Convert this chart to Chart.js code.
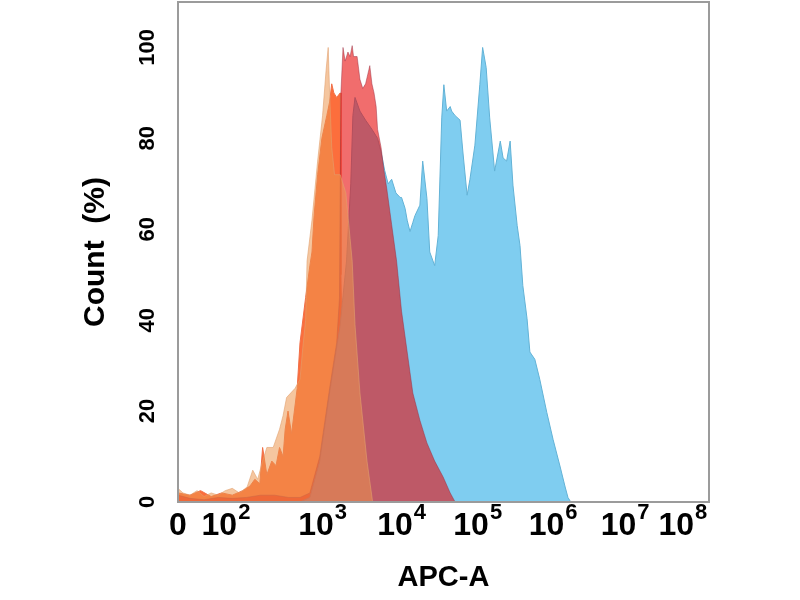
<!DOCTYPE html>
<html>
<head>
<meta charset="utf-8">
<script src="https://cdn.jsdelivr.net/npm/chart.js@4.4.1/dist/chart.umd.min.js"></script>
<style>
  html, body { margin: 0; padding: 0; background: #fff; }
</style>
</head>
<body>
<canvas id="histChart" width="800" height="600"></canvas>
<script>
// APC-A positions are display units of the transformed (biex / log) axis
var xTickPos = [1.13, 1.81, 3.18, 4.30, 5.38, 6.45, 7.47, 8.29];
var xTickBase = ['0', '10', '10', '10', '10', '10', '10', '10'];
var xTickExp = ['', '2', '3', '4', '5', '6', '7', '8'];
var yTickVals = [0, 20, 40, 60, 80, 100];

var blueX = [2.86, 3.00, 3.14, 3.28, 3.43, 3.52, 3.58, 3.61, 3.64, 3.71, 3.79, 3.88, 3.96, 4.01, 4.06, 4.11, 4.16, 4.22, 4.28, 4.30,
    4.35, 4.38, 4.42, 4.46, 4.49, 4.56, 4.60, 4.66, 4.70, 4.77, 4.82, 4.87, 4.90, 4.94, 4.99, 5.01, 5.06, 5.13, 5.17, 5.23,
    5.27, 5.34, 5.41, 5.45, 5.50, 5.55, 5.62, 5.70, 5.74, 5.79, 5.84, 5.88, 5.94, 5.98, 6.02, 6.08, 6.12, 6.19, 6.26, 6.36,
    6.45, 6.55, 6.62, 6.66, 6.70];
var blueY = [0, 1, 9, 24, 39, 53, 70, 85, 89, 86, 84, 82, 80, 77, 73, 70, 71, 68, 67, 67,
    64.6, 62, 59.5, 61.5, 63, 65.3, 75, 66.8, 55, 52, 58.6, 84.5, 91.8, 86, 87, 86, 85, 84, 77, 67.5,
    71, 78.5, 91.8, 100, 95.6, 84.5, 72.8, 79.4, 75.7, 75, 79.4, 69.7, 60.8, 56.4, 47.6, 40.3, 33, 31.4, 27, 19.7,
    13.7, 7.7, 3.3, 1, 0];

var redX = [1.13, 1.30, 1.50, 1.70, 1.90, 2.10, 2.30, 2.50, 2.70, 2.86, 3.00, 3.14, 3.28, 3.38, 3.42, 3.44, 3.47, 3.50, 3.54, 3.57,
    3.60, 3.62, 3.67, 3.71, 3.75, 3.79, 3.85, 3.88, 3.91, 3.94, 3.96, 4.01, 4.05, 4.09, 4.16, 4.23, 4.30, 4.38, 4.46, 4.56,
    4.66, 4.77, 4.89, 4.99, 5.06];
var redY = [1.5, 0.8, 0.5, 1, 0.8, 1, 1.5, 1.5, 1, 1, 2, 10, 25, 35, 45, 90, 100, 97, 99, 98,
    100.4, 98, 98, 93, 91, 92, 96, 92, 90, 87, 82, 78, 73, 69, 61, 53, 42, 33, 24, 18,
    13, 9, 5.5, 2, 0];

var orangeX = [1.13, 1.30, 1.45, 1.60, 1.75, 1.90, 2.05, 2.15, 2.22, 2.29, 2.33, 2.39, 2.46, 2.52, 2.57, 2.62, 2.65, 2.69, 2.74, 2.82,
    2.86, 2.94, 3.00, 3.03, 3.06, 3.11, 3.17, 3.24, 3.28, 3.31, 3.34, 3.38, 3.43, 3.44, 3.46, 3.52, 3.60, 3.70];
var orangeY = [2, 1.5, 2.5, 1.2, 2, 1.5, 2.5, 3.5, 5, 4, 12, 6, 9, 8, 12, 10, 16, 20, 15, 25,
    35, 45, 52, 55, 63, 72, 80, 85, 88, 92, 90, 89, 90, 50, 30, 15, 5, 0];

var tanX = [1.13, 1.20, 1.30, 1.40, 1.50, 1.60, 1.70, 1.80, 1.90, 2.00, 2.11, 2.19, 2.26, 2.33, 2.39, 2.48, 2.57, 2.62, 2.67, 2.79,
    2.86, 2.90, 2.94, 2.96, 3.03, 3.11, 3.18, 3.23, 3.26, 3.28, 3.31, 3.35, 3.43, 3.51, 3.57, 3.60, 3.64, 3.71, 3.81, 3.89];
var tanY = [3, 2, 1.5, 2.5, 1.2, 2, 1.5, 2.5, 3, 2, 3.3, 7, 5, 9, 12, 12, 16, 19, 23, 25,
    27, 34, 40, 53, 62, 75, 85, 95, 100, 90, 78, 72, 72, 68, 58, 53, 39, 24, 9, 0];

var fontFamily = '"Liberation Sans", Arial, sans-serif';

function toPoints(xs, ys) {
    return xs.map(function (x, i) { return { x: x, y: ys[i] }; });
}

function histSet(label, xs, ys, fill, line, order) {
    return {
        label: label,
        data: toPoints(xs, ys),
        backgroundColor: fill,
        borderColor: line,
        borderWidth: 1,
        pointRadius: 0,
        tension: 0,
        fill: 'origin',
        order: order
    };
}

// grey box round the plot
var frame = {
    id: 'frame',
    afterDatasetsDraw: function (chart) {
        var a = chart.chartArea;
        var ctx = chart.ctx;
        ctx.save();
        ctx.strokeStyle = '#9b9b9b';
        ctx.lineWidth = 2;
        ctx.strokeRect(a.left, a.top, a.right - a.left, a.bottom - a.top);
        ctx.restore();
    }
};

// x tick labels with real superscripts
var tickText = {
    id: 'tickText',
    afterDraw: function (chart) {
        var xs = chart.scales.x;
        var ctx = chart.ctx;
        ctx.save();
        ctx.fillStyle = '#000';
        ctx.textBaseline = 'alphabetic';
        ctx.textAlign = 'left';
        xTickPos.forEach(function (v, i) {
            var base = xTickBase[i];
            var exp = xTickExp[i];
            ctx.font = 'bold 32px ' + fontFamily;
            var wb = ctx.measureText(base).width;
            ctx.font = 'bold 22px ' + fontFamily;
            var we = exp ? ctx.measureText(exp).width + 1 : 0;
            var x0 = xs.getPixelForValue(v) - (wb + we) / 2;
            var yb = xs.top + 33;
            ctx.font = 'bold 32px ' + fontFamily;
            ctx.fillText(base, x0, yb);
            if (exp) {
                ctx.font = 'bold 22px ' + fontFamily;
                ctx.fillText(exp, x0 + wb + 1, yb - 16);
            }
        });
        ctx.restore();
    }
};

var ctx = document.getElementById('histChart').getContext('2d');
var chart = new Chart(ctx, {
    type: 'line',
    data: {
        datasets: [
            histSet('tan', tanX, tanY, 'rgba(236,150,78,0.54)', 'rgba(225,160,110,0.6)', 0),
            histSet('red', redX, redY, 'rgba(231,11,11,0.6)', 'rgba(150,40,60,0.45)', 1),
            histSet('blue', blueX, blueY, '#7fcdf0', '#62b2d6', 2),
            histSet('orange', orangeX, orangeY, 'rgb(252,110,60)', 'rgb(240,110,70)', 3)
        ]
    },
    plugins: [frame, tickText],
    options: {
        responsive: false,
        animation: false,
        layout: { padding: { top: 2, right: 91, left: 0, bottom: 0 } },
        plugins: { legend: { display: false }, tooltip: { enabled: false } },
        scales: {
            x: {
                type: 'linear',
                min: 1.13,
                max: 8.66,
                grid: { display: false, drawTicks: false },
                border: { display: false },
                afterFit: function (s) {
                    s.height = 98;
                    s.paddingLeft = 0;
                    s.paddingRight = 0;
                },
                ticks: { display: false },
                title: {
                    display: true,
                    text: 'APC-A',
                    color: '#000',
                    font: { family: fontFamily, size: 29, weight: 'bold' },
                    padding: { top: 0, bottom: 5 }
                }
            },
            y: {
                min: 0,
                max: 110,
                grid: { display: false, drawTicks: false },
                border: { display: false },
                afterBuildTicks: function (s) {
                    s.ticks = yTickVals.map(function (v) { return { value: v }; });
                },
                afterFit: function (s) {
                    s.width = 178;
                    s.paddingTop = 0;
                    s.paddingBottom = 0;
                },
                ticks: {
                    minRotation: 90,
                    maxRotation: 90,
                    crossAlign: 'center',
                    padding: 12,
                    color: '#000',
                    font: { family: fontFamily, size: 22, weight: 'bold' }
                },
                title: {
                    display: true,
                    text: 'Count  (%)',
                    color: '#000',
                    font: { family: fontFamily, size: 30, weight: 'bold' },
                    padding: { top: 78, bottom: 0 }
                }
            }
        }
    }
});
</script>
</body>
</html>
